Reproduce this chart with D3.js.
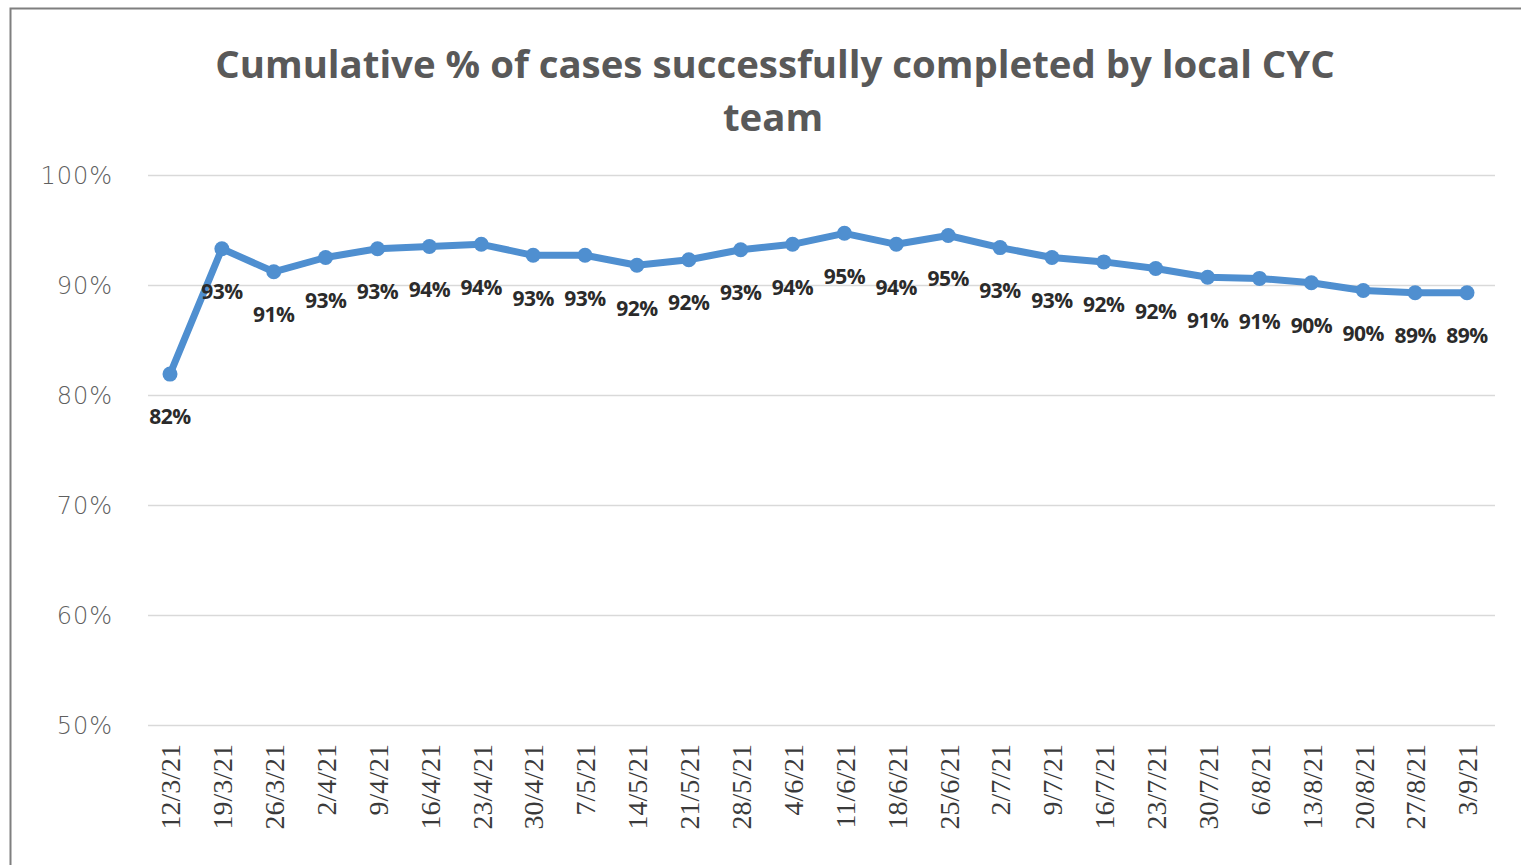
<!DOCTYPE html>
<html><head><meta charset="utf-8">
<script src="https://cdn.jsdelivr.net/npm/d3@7"></script>
<style>
html,body{margin:0;padding:0;background:#fff;overflow:hidden}
</style></head>
<body>
<svg id="c" width="1521" height="865"></svg>
<script>
const titleLines = ["Cumulative % of cases successfully completed by local CYC", "team"];
const categories = ["12/3/21","19/3/21","26/3/21","2/4/21","9/4/21","16/4/21","23/4/21","30/4/21","7/5/21","14/5/21","21/5/21","28/5/21","4/6/21","11/6/21","18/6/21","25/6/21","2/7/21","9/7/21","16/7/21","23/7/21","30/7/21","6/8/21","13/8/21","20/8/21","27/8/21","3/9/21"];
const values = [0.819,0.933,0.912,0.925,0.933,0.935,0.937,0.927,0.927,0.918,0.923,0.932,0.937,0.947,0.937,0.945,0.934,0.925,0.921,0.915,0.907,0.906,0.902,0.895,0.893,0.893];
const yTicks = [0.5,0.6,0.7,0.8,0.9,1.0];

const svg = d3.select("#c");
svg.append("rect").attr("x",0).attr("y",0).attr("width",1521).attr("height",865).attr("fill","#fff");
svg.append("path").attr("d","M10.5,865 V8.5 H1521").attr("fill","none").attr("stroke","#7f7f7f").attr("stroke-width",2);

const x = d3.scalePoint().domain(categories).range([170,1467]);
const y = d3.scaleLinear().domain([0.5,1.0]).range([725,175]);

svg.append("g").selectAll("line").data(yTicks).join("line")
  .attr("x1",148).attr("x2",1495)
  .attr("y1",d=>Math.round(y(d))+0.5).attr("y2",d=>Math.round(y(d))+0.5)
  .attr("stroke","#d9d9d9").attr("stroke-width",1.5);

const yAxis = svg.append("g").attr("transform","translate(113,0)")
  .call(d3.axisLeft(y).tickValues(yTicks).tickFormat(d3.format(".0%")).tickSize(0).tickPadding(0));
yAxis.select(".domain").remove();
yAxis.selectAll("text").attr("font-family","'DejaVu Sans', sans-serif").attr("font-size",24)
  .attr("fill","#5f5f5f").attr("font-weight",300).attr("dy","0.35em").attr("letter-spacing","1px");

const xAxis = svg.append("g").attr("transform","translate(0,744)")
  .call(d3.axisBottom(x).tickSize(0).tickPadding(0));
xAxis.select(".domain").remove();
xAxis.selectAll("text").attr("font-family","'Liberation Serif', serif").attr("font-size",28)
  .attr("fill","#3a3a3a").attr("text-anchor","end").attr("dy","0.35em")
  .attr("transform","rotate(-90)").attr("x",0).attr("y",0);

const line = d3.line().x((d,i)=>x(categories[i])).y(d=>y(d));
svg.append("path").datum(values).attr("d",line).attr("fill","none")
  .attr("stroke","#4f8fd0").attr("stroke-width",7).attr("stroke-linejoin","round");
svg.append("g").selectAll("circle").data(values).join("circle")
  .attr("cx",(d,i)=>x(categories[i])).attr("cy",d=>y(d)).attr("r",7.5).attr("fill","#4f8fd0");

svg.append("g").selectAll("text").data(values).join("text")
  .attr("x",(d,i)=>x(categories[i])).attr("y",d=>y(d)+43)
  .attr("text-anchor","middle").attr("dy","0.35em")
  .attr("font-family","'Open Sans', sans-serif").attr("font-weight",700).attr("font-size",21)
  .attr("fill","#2b2b2b").attr("letter-spacing","-0.5px")
  .text(d=>d3.format(".0%")(d));

const tg = svg.append("g");
const t1 = tg.append("text").attr("x",775).attr("y",78).attr("text-anchor","middle")
  .attr("font-family","'Open Sans', sans-serif").attr("font-weight",700).attr("font-size",34)
  .attr("fill","#595959").text(titleLines[0]);
const w = t1.node().getComputedTextLength();
const fs = 34*1120/w;
t1.attr("font-size",fs);
tg.append("text").attr("x",773).attr("y",131).attr("text-anchor","middle")
  .attr("font-family","'Open Sans', sans-serif").attr("font-weight",700).attr("font-size",fs)
  .attr("fill","#595959").text(titleLines[1]);
</script>
</body></html>
